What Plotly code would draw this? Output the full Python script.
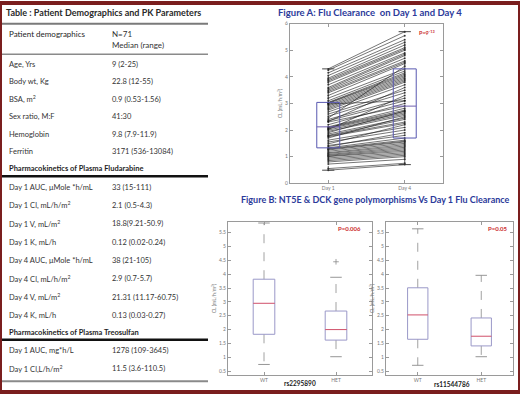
import plotly.graph_objects as go

W, H = 520, 395
def fx(px): return px / W
def fy(py): return 1 - py / H

FONT = "Lato, 'Open Sans', sans-serif"

# ---------------- Table data ----------------
table_title = "Table : Patient Demographics and PK Parameters"
header_left = "Patient demographics"
header_right = ["N=71", "Median (range)"]
demo_labels = ["Age, Yrs", "Body wt, Kg", "BSA, m<sup>2</sup>", "Sex ratio, M:F", "Hemoglobin", "Ferritin"]
demo_values = ["9 (2-25)", "22.8 (12-55)", "0.9 (0.53-1.56)", "41:30", "9.8 (7.9-11.9)", "3171 (536-13084)"]
flu_header = "Pharmacokinetics of Plasma Fludarabine"
flu_labels = ["Day 1 AUC, μMole *h/mL", "Day 1 Cl, mL/h/m<sup>2</sup>", "Day 1 V, mL/m<sup>2</sup>", "Day 1 K, mL/h",
              "Day 4 AUC, μMole *h/mL", "Day 4 Cl, mL/h/m<sup>2</sup>", "Day 4 V, mL/m<sup>2</sup>", "Day 4 K, mL/h"]
flu_values = ["33 (15-111)", "2.1 (0.5-4.3)", "18.8(9.21-50.9)", "0.12 (0.02-0.24)",
              "38 (21-105)", "2.9 (0.7-5.7)", "21.31 (11.17-60.75)", "0.13 (0.03-0.27)"]
treo_header = "Pharmacokinetics of Plasma Treosulfan"
treo_labels = ["Day 1 AUC, mg*h/L", "Day 1 Cl,L/h/m<sup>2</sup>"]
treo_values = ["1278 (109-3645)", "11.5 (3.6-110.5)"]

# ---------------- Figure A data (paired Day 1 / Day 4 clearance) ----------------
figA_title = "Figure A: Flu Clearance  on Day 1 and Day 4"
figA_days = ["Day 1", "Day 4"]
day1_cl = [0.49, 0.55, 0.72, 0.80, 0.85, 0.90, 0.95, 1.00, 1.02, 1.05,
           1.08, 1.12, 1.15, 1.20, 1.25, 1.28, 1.30, 1.33, 1.38, 1.42,
           1.48, 1.55, 1.62, 1.70, 1.75, 1.78, 1.80, 1.85, 1.90, 1.95,
           2.00, 2.02, 2.05, 2.08, 2.10, 2.12, 2.20, 2.30, 2.32, 2.35,
           2.40, 2.45, 2.52, 2.60, 2.68, 2.75, 2.80, 2.85, 2.90, 2.95,
           2.98, 3.00, 3.02, 3.04, 3.10, 3.20, 3.30, 3.40, 3.45, 3.50,
           3.55, 3.60, 3.70, 3.80, 3.85, 3.90, 3.95, 4.05, 4.15, 4.25, 4.30]
day4_cl = [0.70, 0.75, 0.90, 1.00, 1.05, 1.10, 1.15, 1.20, 1.25, 1.30,
           1.35, 1.40, 1.45, 1.50, 1.55, 1.58, 1.62, 1.70, 1.90, 1.80,
           2.20, 2.00, 2.10, 2.50, 2.25, 2.30, 2.40, 2.45, 2.72, 2.55,
           2.60, 3.30, 2.65, 2.70, 2.75, 2.82, 3.00, 2.90, 3.60, 3.10,
           3.20, 4.40, 3.40, 3.50, 3.70, 3.80, 3.85, 3.90, 3.95, 4.00,
           3.10, 4.05, 4.10, 4.15, 4.22, 4.30, 4.50, 4.55, 4.60, 4.70,
           4.80, 4.85, 4.90, 5.00, 5.05, 5.10, 5.20, 5.30, 5.40, 5.55, 5.70]
# box stats: q1, median, q3, lower whisker, upper whisker
figA_box_day1 = [1.33, 2.12, 3.04, 0.49, 4.30]
figA_box_day4 = [1.70, 2.90, 4.30, 0.70, 5.70]
figA_p = "P=9<sup>-13</sup>"

# ---------------- Figure B data ----------------
figB_title = "Figure B: NT5E & DCK gene polymorphisms Vs Day 1 Flu Clearance"
genotypes = ["WT", "HET"]
snp_names = ["rs2295890", "rs11544786"]
snp1_wt = [1.83, 2.95, 3.82, 0.74, 5.85]
snp1_het = [1.62, 2.00, 2.67, 1.02, 3.89]
snp1_het_outlier = [4.45]
snp2_wt = [1.65, 2.53, 3.51, 0.71, 5.64]
snp2_het = [1.41, 1.76, 2.42, 1.02, 3.96]
snp_p = ["P=0.006", "P=0.05"]

fig = go.Figure()

# ---- Figure A paired lines
xs, ys = [], []
for a, b in zip(day1_cl, day4_cl):
    xs += [1, 2, None]
    ys += [a, b, None]
fig.add_trace(go.Scatter(x=xs, y=ys, mode="lines+markers",
                         line=dict(color="rgba(25,25,25,0.75)", width=0.8),
                         marker=dict(size=2, color="rgba(20,20,20,0.8)"),
                         xaxis="x", yaxis="y", showlegend=False, hoverinfo="skip"))


def add_box(c, stats, hw, cw, box_col, med_col, wh_col, xa, ya, bw=1.0):
    q1, med, q3, lo, hi = stats
    fig.add_trace(go.Scatter(x=[c, c, None, c, c], y=[q3, hi, None, q1, lo], mode="lines",
                             line=dict(color=wh_col, width=0.8, dash="dash"),
                             xaxis=xa, yaxis=ya, showlegend=False, hoverinfo="skip"))
    fig.add_trace(go.Scatter(x=[c - cw, c + cw, None, c - cw, c + cw], y=[hi, hi, None, lo, lo], mode="lines",
                             line=dict(color=wh_col, width=0.9),
                             xaxis=xa, yaxis=ya, showlegend=False, hoverinfo="skip"))
    fig.add_trace(go.Scatter(x=[c - hw, c + hw, c + hw, c - hw, c - hw], y=[q1, q1, q3, q3, q1], mode="lines",
                             line=dict(color=box_col, width=bw),
                             xaxis=xa, yaxis=ya, showlegend=False, hoverinfo="skip"))
    fig.add_trace(go.Scatter(x=[c - hw, c + hw], y=[med, med], mode="lines",
                             line=dict(color=med_col, width=bw),
                             xaxis=xa, yaxis=ya, showlegend=False, hoverinfo="skip"))


add_box(1, figA_box_day1, 0.15, 0.08, "#5858b0", "#7060b0", "#333333", "x", "y")
add_box(2, figA_box_day4, 0.15, 0.08, "#5858b0", "#7060b0", "#333333", "x", "y")

BOX_B = "#9a98c8"
MED_B = "#d0506a"
WH_B = "#8a8a8a"
add_box(1, snp1_wt, 0.15, 0.08, BOX_B, MED_B, WH_B, "x2", "y2")
add_box(2, snp1_het, 0.15, 0.08, BOX_B, MED_B, WH_B, "x2", "y2")
fig.add_trace(go.Scatter(x=[2] * len(snp1_het_outlier), y=snp1_het_outlier, mode="markers",
                         marker=dict(symbol="cross-thin", size=4, line=dict(color="#8a8a8a", width=0.8)),
                         xaxis="x2", yaxis="y2", showlegend=False, hoverinfo="skip"))
add_box(1, snp2_wt, 0.16, 0.09, BOX_B, MED_B, WH_B, "x3", "y3")
add_box(2, snp2_het, 0.16, 0.09, BOX_B, MED_B, WH_B, "x3", "y3")

axis_common = dict(showline=True, linecolor="#9a9a9a", linewidth=1, mirror="ticks", ticks="inside",
                   ticklen=3, tickcolor="#9a9a9a", showgrid=False, zeroline=False,
                   tickfont=dict(size=5, color="#777", family=FONT))

cl_title = dict(text="CL (mL/h/m<sup>2</sup>)", font=dict(size=5, color="#777", family=FONT), standoff=2)

fig.update_layout(
    width=W, height=H, margin=dict(l=0, r=0, t=0, b=0),
    paper_bgcolor="white", plot_bgcolor="white",
    xaxis=dict(domain=[fx(290), fx(443)], range=[0.5, 2.5], tickvals=[1, 2], ticktext=figA_days,
               anchor="y", **axis_common),
    yaxis=dict(domain=[fy(183), fy(21)], range=[0, 6], dtick=1, anchor="x", title=cl_title, **axis_common),
    xaxis2=dict(domain=[fx(228), fx(372)], range=[0.5, 2.5], tickvals=[1, 2], ticktext=genotypes,
                anchor="y2", **axis_common),
    yaxis2=dict(domain=[fy(378), fy(222)], range=[0.35, 5.9], dtick=0.5, anchor="x2", title=cl_title, **axis_common),
    xaxis3=dict(domain=[fx(386), fx(513)], range=[0.5, 2.5], tickvals=[1, 2], ticktext=genotypes,
                anchor="y3", **axis_common),
    yaxis3=dict(domain=[fy(378), fy(222)], range=[0.35, 5.9], dtick=0.5, anchor="x3", title=cl_title, **axis_common),
)

ann = []
shapes = []


def txt(px, py, s, size=8, color="#333", bold=False, xanchor="left", family=FONT):
    if bold:
        s = "<b>" + s + "</b>"
    ann.append(dict(x=fx(px), y=fy(py), xref="paper", yref="paper", text=s, showarrow=False,
                    xanchor=xanchor, yanchor="middle", font=dict(size=size, color=color, family=family)))


def hline(py, x0, x1, color, width):
    shapes.append(dict(type="line", xref="paper", yref="paper", x0=fx(x0), x1=fx(x1), y0=fy(py), y1=fy(py),
                       line=dict(color=color, width=width)))


# ---- Table
LX, VX, TW = 7, 110, 208
txt(4, 10, table_title, size=9, color="#2a2a2a", bold=True)
hline(21, 0, TW, "#7a7a7a", 2)
txt(LX, 31, header_left, size=8, color="#1e1e1e")
txt(VX, 31, header_right[0], size=8)
txt(VX, 43, header_right[1], size=8)
hline(52, 0, TW, "#8a8a8a", 1.5)
for i, (l, v) in enumerate(zip(demo_labels, demo_values)):
    py = 62 + i * 17.8
    txt(LX, py, l, size=7.5)
    txt(VX, py, v, size=7.5)
txt(LX, 168, flu_header, size=7.5, color="#1e1e1e", bold=True)
hline(176, 0, TW, "#111", 2.5)
for i, (l, v) in enumerate(zip(flu_labels, flu_values)):
    py = 187 + i * 18.6
    txt(LX, py, l, size=7.5)
    txt(VX, py, v, size=7.5)
txt(LX, 335, treo_header, size=7.5, color="#1e1e1e", bold=True)
hline(342, 0, TW, "#111", 2.5)
for i, (l, v) in enumerate(zip(treo_labels, treo_values)):
    py = 353 + i * 18.2
    txt(LX, py, l, size=7.5)
    txt(VX, py, v, size=7.5)
hline(384, 0, TW, "#8a8a8a", 2)

# ---- Figure titles and labels
txt(370, 10, figA_title, size=9.5, color="#2b3a9a", bold=True, xanchor="center")
txt(437, 30, figA_p, size=5.5, color="#cc2a2a", bold=True, xanchor="right")
txt(375, 200, figB_title, size=9, color="#2b3a9a", bold=True, xanchor="center")
txt(363, 229, snp_p[0], size=6, color="#cc2a2a", bold=True, xanchor="right")
txt(510, 229, snp_p[1], size=6, color="#cc2a2a", bold=True, xanchor="right")
txt(300, 386, snp_names[0], size=6.5, color="#222", bold=True, xanchor="center")
txt(452, 387, snp_names[1], size=6.5, color="#222", bold=True, xanchor="center")

# ---- border
shapes.append(dict(type="rect", xref="paper", yref="paper", x0=0, y0=0, x1=1, y1=1,
                   line=dict(color="#7a1e1e", width=4)))

fig.update_layout(annotations=ann, shapes=shapes)
fig.write_html("out.html", config={"displayModeBar": False},
               post_script="document.body.style.margin='0';document.body.style.padding='0';"
                           "document.body.style.overflow='hidden';")
